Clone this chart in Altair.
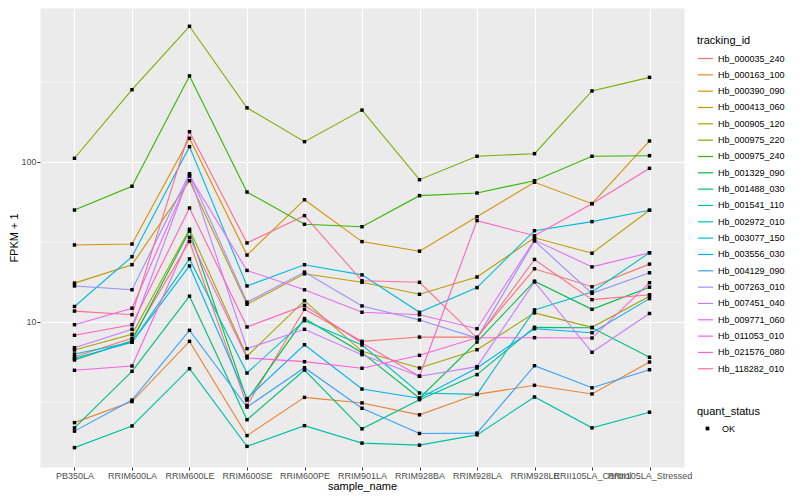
import altair as alt
import pandas as pd

samples = ["PB350LA", "RRIM600LA", "RRIM600LE", "RRIM600SE", "RRIM600PE", "RRIM901LA",
           "RRIM928BA", "RRIM928LA", "RRIM928LE", "RRII105LA_Control", "RRII105LA_Stressed"]

tracking_ids = ["Hb_000035_240", "Hb_000163_100", "Hb_000390_090", "Hb_000413_060",
                "Hb_000905_120", "Hb_000975_220", "Hb_000975_240", "Hb_001329_090",
                "Hb_001488_030", "Hb_001541_110", "Hb_002972_010", "Hb_003077_150",
                "Hb_003556_030", "Hb_004129_090", "Hb_007263_010", "Hb_007451_040",
                "Hb_009771_060", "Hb_011053_010", "Hb_021576_080", "Hb_118282_010"]

colors = ["#F8766D", "#EA8331", "#D89000", "#C09B00", "#A3A500", "#7CAE00", "#39B600",
          "#00BB4E", "#00BF7D", "#00C1A3", "#00BFC4", "#00BAE0", "#00B0F6", "#35A2FF",
          "#9590FF", "#C77CFF", "#E76BF3", "#FA62DB", "#FF62BC", "#FF6C91"]

hb_000035_240 = [6.07, 7.91, 31.9, 3.01, 12.0, 7.57, 8.05, 8.04, 21.5, 16.6, 23.0]
hb_000163_100 = [2.35, 3.18, 7.57, 1.95, 3.38, 3.12, 2.63, 3.53, 4.02, 3.55, 5.62]
hb_000390_090 = [30.3, 30.7, 140.6, 26.2, 58.1, 31.8, 27.7, 45.5, 74.7, 54.9, 135.3]
hb_000413_060 = [17.5, 22.8, 76.4, 12.9, 20.0, 17.7, 14.9, 19.1, 33.6, 26.9, 49.9]
hb_000905_120 = [6.68, 8.38, 38.0, 6.11, 13.6, 6.56, 5.16, 6.71, 11.4, 9.26, 14.5]
hb_000975_220 = [105.5, 283, 705, 218, 134, 211, 77.5, 108.6, 112.7, 278, 338]
hb_000975_240 = [50.1, 70.5, 345, 64.9, 40.8, 39.4, 61.6, 64.0, 76.4, 108.6, 109.5]
hb_001329_090 = [5.79, 7.64, 37.0, 3.25, 10.5, 6.43, 3.34, 7.50, 18.0, 12.0, 16.5]
hb_001488_030 = [2.18, 4.92, 14.5, 2.45, 5.01, 2.15, 3.27, 4.69, 9.26, 9.21, 6.02]
hb_001541_110 = [1.64, 2.24, 5.11, 1.67, 2.25, 1.75, 1.70, 1.97, 3.40, 2.18, 2.73]
hb_002972_010 = [6.31, 7.47, 24.8, 4.80, 10.2, 7.18, 3.60, 3.53, 11.9, 15.4, 27.1]
hb_003077_150 = [12.5, 25.6, 124.7, 16.8, 22.8, 19.7, 11.5, 16.4, 37.2, 42.4, 49.9]
hb_003556_030 = [5.93, 7.47, 22.4, 3.32, 7.21, 3.81, 3.34, 5.16, 9.08, 8.57, 14.0]
hb_004129_090 = [2.08, 3.25, 8.87, 2.94, 5.18, 2.89, 2.01, 2.02, 5.33, 3.88, 5.03]
hb_007263_010 = [16.8, 15.9, 84.5, 13.3, 20.5, 12.6, 10.3, 7.94, 32.1, 15.1, 20.3]
hb_007451_040 = [6.91, 9.00, 82.9, 6.81, 9.00, 6.25, 4.58, 5.26, 17.8, 6.47, 11.3]
hb_009771_060 = [9.62, 12.2, 81.7, 21.0, 15.9, 11.5, 11.1, 9.08, 32.5, 22.1, 27.1]
hb_011053_010 = [4.99, 5.31, 33.8, 5.96, 5.65, 5.14, 6.19, 7.98, 7.98, 7.94, 17.6]
hb_021576_080 = [8.26, 9.62, 51.6, 9.31, 12.7, 7.39, 4.58, 43.0, 34.6, 54.9, 91.3]
hb_118282_010 = [11.7, 11.1, 154.6, 31.2, 46.2, 18.1, 17.7, 7.94, 24.6, 13.8, 14.8]

series = [hb_000035_240, hb_000163_100, hb_000390_090, hb_000413_060, hb_000905_120,
          hb_000975_220, hb_000975_240, hb_001329_090, hb_001488_030, hb_001541_110,
          hb_002972_010, hb_003077_150, hb_003556_030, hb_004129_090, hb_007263_010,
          hb_007451_040, hb_009771_060, hb_011053_010, hb_021576_080, hb_118282_010]

quant_status = "OK"
major_breaks = [10, 100]
minor_breaks = [3.1623, 31.623, 316.23]

rows = []
for tid, vals in zip(tracking_ids, series):
    for i, (s, v) in enumerate(zip(samples, vals)):
        rows.append({"tracking_id": tid, "sample_name": s, "idx": i,
                     "fpkm": v, "quant_status": quant_status})
df = pd.DataFrame(rows)

FONT = "Liberation Sans"

yscale = alt.Scale(type="log", domain=[1.241, 917], nice=False)
xscale = alt.Scale(type="point", domain=samples, padding=0.6)

y_axis = alt.Axis(title="FPKM + 1", values=major_breaks, format="~g",
                  grid=True, labelPadding=1, titlePadding=1)

x_enc = alt.X("sample_name:N", scale=xscale, sort=samples,
              axis=alt.Axis(title="sample_name", grid=True, labelOverlap=False,
                            labelAngle=0, labelBound=False, labelFlush=False,
                            labelPadding=1, titlePadding=0))
y_enc = alt.Y("fpkm:Q", scale=yscale, axis=y_axis)

minor = alt.Chart(pd.DataFrame({"v": minor_breaks})).mark_rule(
    color="white", strokeWidth=0.55
).encode(y=alt.Y("v:Q", scale=yscale, axis=y_axis))

lines = alt.Chart(df).mark_line(strokeWidth=1.1).encode(
    x=x_enc,
    y=y_enc,
    color=alt.Color("tracking_id:N",
                    scale=alt.Scale(domain=tracking_ids, range=colors),
                    legend=alt.Legend(title="tracking_id", orient="none",
                                      legendX=657, legendY=27,
                                      symbolType="stroke", symbolSize=225,
                                      symbolStrokeWidth=1.2, rowPadding=2.33,
                                      titlePadding=4, padding=0,
                                      labelFontSize=9, labelColor="black",
                                      labelFont=FONT, titleFont=FONT,
                                      titleFontSize=11, titleFontWeight="normal",
                                      titleColor="black", labelLimit=200)),
    order=alt.Order("idx:Q"),
)

points = alt.Chart(df).mark_point(shape="square", filled=True, size=12,
                                  color="black", opacity=1).encode(
    x=x_enc,
    y=y_enc,
    shape=alt.Shape("quant_status:N",
                    scale=alt.Scale(domain=[quant_status], range=["square"]),
                    legend=alt.Legend(title="quant_status", orient="none",
                                      legendX=657, legendY=398,
                                      symbolSize=14, symbolFillColor="black",
                                      symbolStrokeColor="black", symbolStrokeWidth=0,
                                      symbolOffset=6, labelOffset=10,
                                      titlePadding=7, padding=0,
                                      labelFontSize=9, labelColor="black",
                                      labelFont=FONT, titleFont=FONT,
                                      titleFontSize=11, titleFontWeight="normal",
                                      titleColor="black")),
)

chart = alt.layer(minor, lines, points).properties(
    width=644,
    height=459,
    background="white",
    autosize=alt.AutoSizeParams(type="none"),
    padding={"left": 32, "top": 0, "right": 104, "bottom": 25},
).configure_view(
    fill="#EBEBEB", stroke="transparent"
).configure_axis(
    labelFont=FONT, titleFont=FONT, labelColor="#4D4D4D", labelFontSize=9,
    titleFontSize=11, titleColor="black", titleFontWeight="normal",
    tickColor="#333333", tickSize=3, domain=False,
    gridColor="white", gridWidth=1.1,
)

chart.save("out.html", embed_options={"renderer": "svg", "actions": False})
